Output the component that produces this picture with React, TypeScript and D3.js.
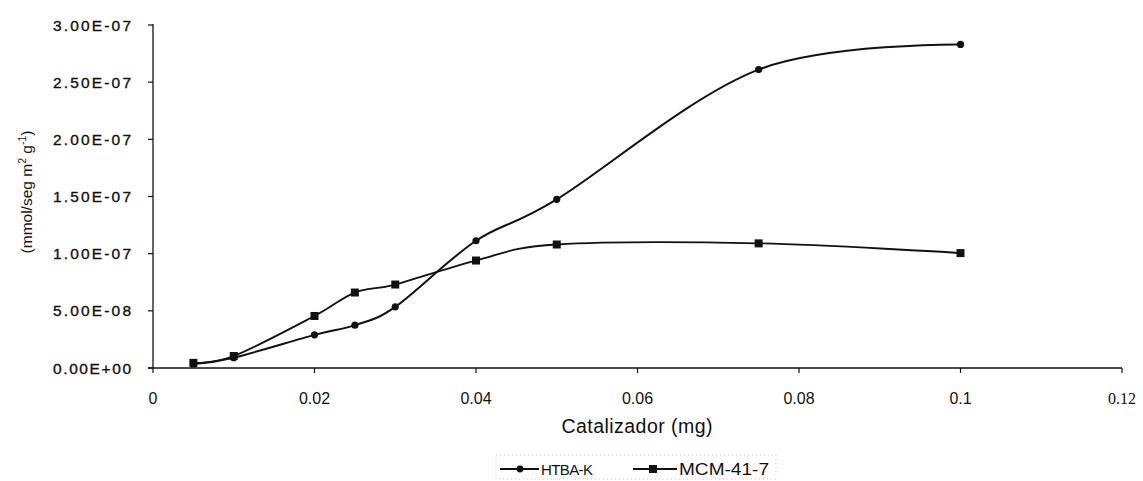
import React from "react";
import * as d3 from "d3";

const xValues = [0.005, 0.01, 0.02, 0.025, 0.03, 0.04, 0.05, 0.075, 0.1];
const htbaValues = [3.5e-9, 9e-9, 2.9e-8, 3.75e-8, 5.35e-8, 1.113e-7, 1.475e-7, 2.61e-7, 2.83e-7];
const mcmValues = [4.5e-9, 1.05e-8, 4.55e-8, 6.6e-8, 7.3e-8, 9.4e-8, 1.08e-7, 1.09e-7, 1.005e-7];
const seriesNames = ["HTBA-K", "MCM-41-7"];
const yTicks = [0, 5e-8, 1e-7, 1.5e-7, 2e-7, 2.5e-7, 3e-7];
const yTickLabels = ["0.00E+00", "5.00E-08", "1.00E-07", "1.50E-07", "2.00E-07", "2.50E-07", "3.00E-07"];
const xTicks = [0, 0.02, 0.04, 0.06, 0.08, 0.1, 0.12];
const xTickLabels = ["0", "0.02", "0.04", "0.06", "0.08", "0.1", "0.12"];

const W = 1143;
const H = 481;

export default function App() {
  const x = d3.scaleLinear().domain([0, 0.12]).range([153, 1122]);
  const y = d3.scaleLinear().domain([0, 3e-7]).range([368, 25]);

  const line = d3
    .line<[number, number]>()
    .x((d) => x(d[0]))
    .y((d) => y(d[1]))
    .curve(d3.curveCardinal.tension(0));

  const htba: [number, number][] = xValues.map((v, i) => [v, htbaValues[i]]);
  const mcm: [number, number][] = xValues.map((v, i) => [v, mcmValues[i]]);

  const sans = "'Liberation Sans', Arial, sans-serif";
  const serif = "'Liberation Serif', 'Times New Roman', serif";
  const ink = "#111";

  return (
    <svg
      width={W}
      height={H}
      style={{ position: "absolute", left: 0, top: 0, background: "#fff" }}
    >
      <rect x={0} y={0} width={W} height={H} fill="#fff" />
      {/* Y axis */}
      <line x1={x(0)} x2={x(0)} y1={y(3e-7) - 1} y2={y(0)} stroke={ink} strokeWidth={1.3} />
      {yTicks.map((t, i) => (
        <g key={"yt" + i}>
          <line x1={x(0) - 5} x2={x(0)} y1={y(t)} y2={y(t)} stroke={ink} strokeWidth={1.2} />
          <text
            x={131}
            y={y(t)}
            textAnchor="end"
            dominantBaseline="central"
            fontFamily={sans}
            fontSize={15.5}
            fill={ink}
            stroke={ink}
            strokeWidth={0.35}
            textLength={78}
            lengthAdjust="spacing"
          >
            {yTickLabels[i]}
          </text>
        </g>
      ))}
      {/* X axis */}
      <line x1={x(0) - 5} x2={x(0.12)} y1={y(0)} y2={y(0)} stroke={ink} strokeWidth={1.3} />
      {xTicks.map((t, i) => (
        <g key={"xt" + i}>
          <line x1={x(t)} x2={x(t)} y1={y(0)} y2={y(0) + 5} stroke={ink} strokeWidth={1.2} />
          <text
            x={x(t)}
            y={404}
            textAnchor="middle"
            fontFamily={i === xTicks.length - 1 ? serif : sans}
            fontSize={16}
            fill={ink}
          >
            {xTickLabels[i]}
          </text>
        </g>
      ))}
      {/* Axis titles */}
      <text
        x={637}
        y={433}
        textAnchor="middle"
        fontFamily={sans}
        fontSize={19.5}
        fill={ink}
        textLength={151}
        lengthAdjust="spacing"
      >
        Catalizador (mg)
      </text>
      <text
        transform={`translate(32, 192) rotate(-90)`}
        textAnchor="middle"
        fontFamily={sans}
        fontSize={15.5}
        fill={ink}
      >
        (mmol/seg m
        <tspan baselineShift="super" fontSize={10.5}>2</tspan> g
        <tspan baselineShift="super" fontSize={10.5}>-1</tspan>)
      </text>
      {/* Lines */}
      <path d={line(htba) || ""} fill="none" stroke={ink} strokeWidth={2} />
      <path d={line(mcm) || ""} fill="none" stroke={ink} strokeWidth={1.8} />
      {htba.map((d, i) => (
        <circle key={"hc" + i} cx={x(d[0])} cy={y(d[1])} r={3.6} fill={ink} />
      ))}
      {mcm.map((d, i) => (
        <rect key={"mr" + i} x={x(d[0]) - 4} y={y(d[1]) - 4} width={8} height={8} fill={ink} />
      ))}
      {/* Legend */}
      <rect
        x={496}
        y={455}
        width={280}
        height={24}
        fill="none"
        stroke="#bbb"
        strokeWidth={0.8}
        strokeDasharray="1 3"
      />
      <line x1={500} x2={539} y1={469} y2={469} stroke={ink} strokeWidth={2} />
      <circle cx={520} cy={469} r={3.4} fill={ink} />
      <text x={541} y={475} fontFamily={sans} fontSize={15} fill={ink} textLength={52} lengthAdjust="spacing">
        {seriesNames[0]}
      </text>
      <line x1={633} x2={677} y1={469} y2={469} stroke={ink} strokeWidth={1.8} />
      <rect x={649} y={465} width={8} height={8} fill={ink} />
      <text x={679} y={475} fontFamily={sans} fontSize={16} fill={ink} textLength={90} lengthAdjust="spacingAndGlyphs">
        {seriesNames[1]}
      </text>
    </svg>
  );
}
